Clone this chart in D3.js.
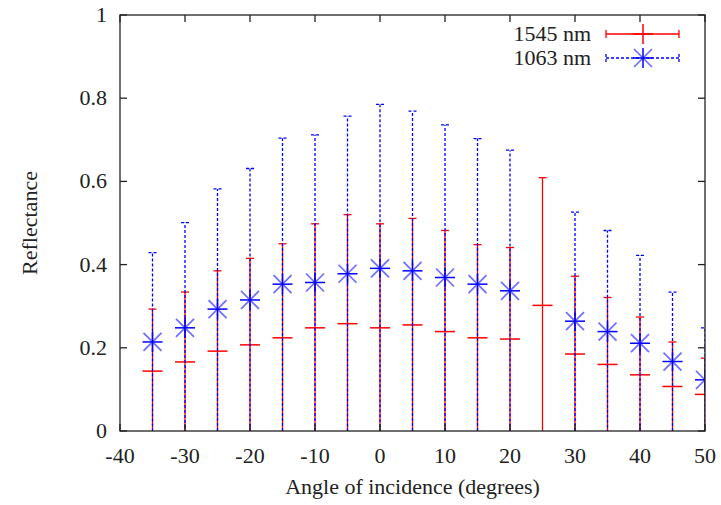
<!DOCTYPE html>
<html>
<head>
<meta charset="utf-8">
<script src="https://cdn.jsdelivr.net/npm/d3@7"></script>
<style>
  body { margin: 0; background: #fff; }
  text { font-family: 'Liberation Serif', 'Times New Roman', serif; fill: #222; }
</style>
</head>
<body>
<div id="chart"></div>
<script>
// angles of incidence (degrees)
const angles1545 = [-35, -30, -25, -20, -15, -10, -5, 0, 5, 10, 15, 20, 25, 30, 35, 40, 45, 50]
const refl1545 = [0.144, 0.166, 0.192, 0.207, 0.224, 0.248, 0.258, 0.248, 0.255, 0.239, 0.224, 0.221, 0.302, 0.185, 0.160, 0.135, 0.107, 0.088]
const high1545 = [0.293, 0.334, 0.385, 0.415, 0.450, 0.498, 0.520, 0.498, 0.511, 0.482, 0.448, 0.441, 0.609, 0.372, 0.321, 0.274, 0.214, 0.175]

const angles1063 = [-35, -30, -25, -20, -15, -10, -5, 0, 5, 10, 15, 20, 30, 35, 40, 45, 50]
const refl1063 = [0.214, 0.248, 0.293, 0.315, 0.353, 0.357, 0.378, 0.391, 0.385, 0.369, 0.353, 0.337, 0.264, 0.239, 0.211, 0.167, 0.123]
const high1063 = [0.429, 0.501, 0.582, 0.631, 0.704, 0.712, 0.757, 0.785, 0.769, 0.736, 0.703, 0.675, 0.526, 0.482, 0.422, 0.334, 0.248]

const xTicks = [-40, -30, -20, -10, 0, 10, 20, 30, 40, 50]
const yTicks = [0, 0.2, 0.4, 0.6, 0.8, 1]

const width = 721, height = 505
const margin = { top: 15, right: 16, bottom: 74, left: 120 }
const w = width - margin.left - margin.right
const h = height - margin.top - margin.bottom
const fs = 22

const svg = d3.select('#chart').append('svg')
    .attr('width', width).attr('height', height)
const g = svg.append('g').attr('transform', 'translate(' + margin.left + ',' + margin.top + ')')

const x = d3.scaleLinear().domain([-40, 50]).range([0, w])
const y = d3.scaleLinear().domain([0, 1]).range([h, 0])

g.append('clipPath').attr('id', 'clip')
    .append('rect').attr('width', w).attr('height', h)
const plot = g.append('g').attr('clip-path', 'url(#clip)')

// build rows: lower end is symmetric to the upper one
function rows(angles, vals, highs) {
    return angles.map((a, i) => ({ a: a, v: vals[i], hi: highs[i], lo: 2 * vals[i] - highs[i] }))
}
const d1545 = rows(angles1545, refl1545, high1545)
const d1063 = rows(angles1063, refl1063, high1063)

const capW = 4, ptR = 10

function errorbars(sel, data, color, dash) {
    const e = sel.selectAll(null).data(data).enter().append('g')
        .attr('stroke', color).attr('stroke-width', 1.3).attr('fill', 'none')
        .attr('stroke-dasharray', dash)
    e.append('line')
        .attr('x1', d => x(d.a)).attr('x2', d => x(d.a))
        .attr('y1', d => y(Math.min(d.lo, 0))).attr('y2', d => y(d.hi))
    e.append('line')
        .attr('x1', d => x(d.a) - capW).attr('x2', d => x(d.a) + capW)
        .attr('y1', d => y(d.hi)).attr('y2', d => y(d.hi))
}

function plus(sel, cx, cy, color) {
    sel.append('line').attr('x1', cx - ptR).attr('x2', cx + ptR).attr('y1', cy).attr('y2', cy)
        .attr('stroke', color).attr('stroke-width', 1.5)
    sel.append('line').attr('x1', cx).attr('x2', cx).attr('y1', cy - ptR).attr('y2', cy + ptR)
        .attr('stroke', color).attr('stroke-width', 1.5)
}
function star(sel, cx, cy) {
    const k = ptR * 0.9
    sel.append('line').attr('x1', cx - k).attr('x2', cx + k).attr('y1', cy - k).attr('y2', cy + k)
        .attr('stroke', '#6f6fff').attr('stroke-width', 1.7)
    sel.append('line').attr('x1', cx - k).attr('x2', cx + k).attr('y1', cy + k).attr('y2', cy - k)
        .attr('stroke', '#6f6fff').attr('stroke-width', 1.7)
    plus(sel, cx, cy, '#0000ff')
}

errorbars(plot, d1545, '#ff0000', null)
d1545.forEach(d => {
    plot.append('line').attr('x1', x(d.a) - ptR).attr('x2', x(d.a) + ptR)
        .attr('y1', y(d.v)).attr('y2', y(d.v)).attr('stroke', '#ff0000').attr('stroke-width', 1.5)
})
errorbars(plot, d1063, '#0000ff', '3,2')
d1063.forEach(d => star(plot, x(d.a), y(d.v)))

// frame and ticks
const tl = 7
const axis = g.append('g').attr('stroke', '#222').attr('stroke-width', 1.3)
axis.append('rect').attr('width', w).attr('height', h).attr('fill', 'none')
xTicks.forEach(t => {
    axis.append('line').attr('x1', x(t)).attr('x2', x(t)).attr('y1', h).attr('y2', h - tl)
    axis.append('line').attr('x1', x(t)).attr('x2', x(t)).attr('y1', 0).attr('y2', tl)
})
yTicks.forEach(t => {
    axis.append('line').attr('x1', 0).attr('x2', tl).attr('y1', y(t)).attr('y2', y(t))
    axis.append('line').attr('x1', w).attr('x2', w - tl).attr('y1', y(t)).attr('y2', y(t))
})

g.selectAll('.xt').data(xTicks).enter().append('text')
    .attr('x', d => x(d)).attr('y', h + 32)
    .attr('text-anchor', 'middle').attr('font-size', fs)
    .text(d => d)
g.selectAll('.yt').data(yTicks).enter().append('text')
    .attr('x', -13).attr('y', d => y(d) + 7)
    .attr('text-anchor', 'end').attr('font-size', fs)
    .text(d => d)

g.append('text').attr('x', w / 2).attr('y', h + 63)
    .attr('text-anchor', 'middle').attr('font-size', fs)
    .text('Angle of incidence (degrees)')
g.append('text')
    .attr('transform', 'translate(' + (-83) + ',' + (h / 2) + ') rotate(-90)')
    .attr('text-anchor', 'middle').attr('font-size', fs)
    .text('Reflectance')

// legend
const lg = svg.append('g')
const lx1 = 606, lx2 = 679, lxc = 643
const legendRows = [
    { label: '1545 nm', y: 34, color: '#ff0000', dash: null },
    { label: '1063 nm', y: 58, color: '#0000ff', dash: '3,2' }
]
legendRows.forEach((r, i) => {
    lg.append('text').attr('x', 591).attr('y', r.y + 7).attr('text-anchor', 'end')
        .attr('font-size', fs).text(r.label)
    const s = lg.append('g').attr('stroke', r.color).attr('stroke-width', 1.3).attr('stroke-dasharray', r.dash)
    s.append('line').attr('x1', lx1).attr('x2', lx2).attr('y1', r.y).attr('y2', r.y)
    s.append('line').attr('x1', lx1).attr('x2', lx1).attr('y1', r.y - capW).attr('y2', r.y + capW)
    s.append('line').attr('x1', lx2).attr('x2', lx2).attr('y1', r.y - capW).attr('y2', r.y + capW)
    if (i === 0) plus(lg, lxc, r.y, r.color)
    else star(lg, lxc, r.y)
})
</script>
</body>
</html>
